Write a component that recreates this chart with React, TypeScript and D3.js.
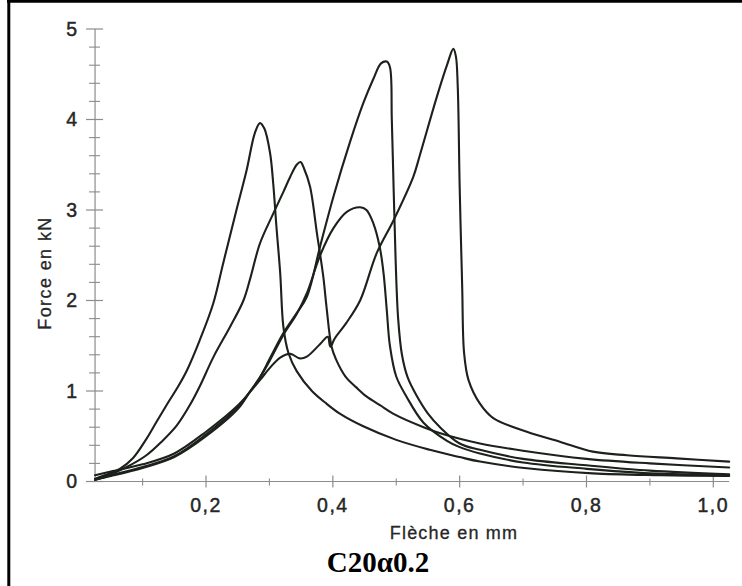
import React from "react";
import * as d3 from "d3";

const W = 742;
const H = 586;

// Deflection (mm) / Force (kN) for the five specimens
const aX = [0.025,0.04,0.064,0.085,0.105,0.122,0.14,0.156,0.17,0.19,0.2115,0.227,0.248,0.264,0.277,0.285,0.292,0.301,0.306,0.311,0.317,0.322,0.33,0.343,0.367,0.39,0.411,0.448,0.5,0.553,0.6,0.632,0.706,0.81,0.916,1.025];
const aY = [0.03,0.07,0.14,0.26,0.46,0.66,0.87,1.05,1.23,1.56,1.97,2.41,3.0,3.44,3.85,3.96,3.9,3.63,3.29,2.82,2.3,1.71,1.42,1.22,1.0,0.86,0.75,0.61,0.46,0.35,0.27,0.22,0.146,0.09,0.07,0.06];

const bX = [0.025,0.033,0.05,0.075,0.106,0.13,0.154,0.175,0.19,0.212,0.238,0.259,0.27,0.285,0.306,0.322,0.333,0.343,0.349,0.355,0.364,0.375,0.385,0.39,0.398,0.405,0.42,0.437,0.453,0.475,0.495,0.543,0.58,0.632,0.7,0.8,0.9,1.025];
const bY = [0.02,0.035,0.08,0.16,0.29,0.44,0.62,0.85,1.05,1.38,1.71,2.0,2.25,2.63,2.96,3.2,3.37,3.5,3.53,3.45,3.26,2.74,2.26,1.93,1.49,1.35,1.16,1.04,0.94,0.84,0.75,0.6,0.51,0.42,0.34,0.25,0.2,0.155];

const cX = [0.025,0.05,0.1,0.15,0.2,0.25,0.27,0.285,0.3,0.322,0.343,0.359,0.38,0.401,0.427,0.448,0.464,0.476,0.485,0.49,0.493,0.496,0.499,0.503,0.509,0.518,0.532,0.55,0.569,0.6,0.632,0.7,0.8,0.9,1.025];
const cY = [0.02,0.06,0.15,0.27,0.5,0.8,1.0,1.15,1.35,1.64,1.86,2.04,2.6,3.15,3.75,4.18,4.45,4.62,4.64,4.58,4.0,3.2,2.45,1.8,1.4,1.15,0.95,0.75,0.6,0.42,0.35,0.25,0.18,0.12,0.08];

const dX = [0.025,0.05,0.1,0.15,0.2,0.25,0.27,0.285,0.3,0.322,0.343,0.359,0.38,0.401,0.422,0.443,0.453,0.464,0.474,0.48,0.485,0.49,0.5,0.516,0.543,0.58,0.6,0.632,0.7,0.8,0.9,1.025];
const dY = [0.02,0.07,0.16,0.28,0.52,0.82,1.0,1.15,1.33,1.62,1.85,2.08,2.5,2.8,2.98,3.03,3.0,2.85,2.59,2.3,1.9,1.5,1.16,0.94,0.65,0.45,0.38,0.31,0.21,0.14,0.09,0.07];

const eX = [0.025,0.05,0.1,0.15,0.2,0.25,0.285,0.3,0.317,0.333,0.348,0.359,0.38,0.392,0.396,0.403,0.421,0.443,0.469,0.496,0.527,0.537,0.564,0.58,0.59,0.594,0.597,0.6,0.604,0.607,0.614,0.632,0.653,0.706,0.758,0.81,0.864,0.942,1.025];
const eY = [0.07,0.11,0.19,0.31,0.55,0.84,1.12,1.25,1.37,1.41,1.36,1.38,1.52,1.6,1.49,1.58,1.75,2.0,2.52,2.89,3.37,3.6,4.25,4.6,4.78,4.7,4.36,3.26,2.15,1.42,1.12,0.86,0.7,0.55,0.44,0.33,0.29,0.256,0.22];

const seriesX = [aX, bX, cX, dX, eX];
const seriesY = [aY, bY, cY, dY, eY];

const xMajorTicks = [0.2, 0.4, 0.6, 0.8, 1.0];
const xMajorLabels = ["0,2", "0,4", "0,6", "0,8", "1,0"];
const xMinorTicks = [0.1, 0.3, 0.5, 0.7, 0.9];
const yMajorTicks = [0, 1, 2, 3, 4, 5];
const yMajorLabels = ["0", "1", "2", "3", "4", "5"];

const xTitle = "Flèche en mm";
const yTitle = "Force en kN";
const chartTitle = "C20α0.2";

export default function App() {
  const x = d3.scaleLinear().domain([0, 1]).range([79.2, 713.3]);
  const y = d3.scaleLinear().domain([0, 5]).range([481.5, 29]);
  const x0 = 0.025;
  const x1 = 1.025;

  const line = d3
    .line<[number, number]>()
    .x((p) => x(p[0]))
    .y((p) => y(p[1]))
    .curve(d3.curveCatmullRom.alpha(0.5));

  const yMinor: number[] = [];
  for (let i = 0; i <= 25; i++) {
    if (i % 5 !== 0) yMinor.push(i * 0.2);
  }

  const axisColor = "#8c8c8c";
  const textColor = "#262626";
  const sans = "Arial, 'Liberation Sans', Helvetica, sans-serif";

  return (
    <svg
      width={W}
      height={H}
      style={{ position: "absolute", left: 0, top: 0, background: "#fff" }}
    >
      <rect x={0} y={0} width={W} height={H} fill="#fff" />
      {/* frame */}
      <line x1={8.8} y1={0} x2={8.8} y2={H} stroke="#000" strokeWidth={3} />
      <line x1={7} y1={1.3} x2={W} y2={1.3} stroke="#000" strokeWidth={3} />

      {/* y axis */}
      <line x1={x(x0)} x2={x(x0)} y1={y(5)} y2={y(0)} stroke={axisColor} strokeWidth={1.2} />
      {yMinor.map((v) => (
        <line key={"ym" + v} x1={x(x0) - 6} x2={x(x0) + 5} y1={y(v)} y2={y(v)} stroke={axisColor} strokeWidth={1.1} />
      ))}
      {yMajorTicks.map((v, i) => (
        <g key={"y" + v}>
          <line x1={x(x0) - 9} x2={x(x0) + 8} y1={y(v)} y2={y(v)} stroke={axisColor} strokeWidth={1.2} />
          <text
            x={77}
            y={y(v) + 1.5}
            textAnchor="end"
            dominantBaseline="middle"
            fontFamily={sans}
            fontSize={19.5}
            fill={textColor}
            stroke={textColor}
            strokeWidth={0.45}
          >
            {yMajorLabels[i]}
          </text>
        </g>
      ))}

      {/* x axis */}
      <line x1={x(x0)} x2={x(x1)} y1={y(0)} y2={y(0)} stroke={axisColor} strokeWidth={1.2} />
      {xMinorTicks.map((v) => (
        <line key={"xm" + v} x1={x(v)} x2={x(v)} y1={y(0) - 3} y2={y(0) + 4} stroke={axisColor} strokeWidth={1.1} />
      ))}
      {xMajorTicks.map((v, i) => (
        <g key={"x" + v}>
          <line x1={x(v)} x2={x(v)} y1={y(0) - 6} y2={y(0) + 6} stroke={axisColor} strokeWidth={1.2} />
          <text
            x={x(v)}
            y={512}
            textAnchor="middle"
            fontFamily={sans}
            fontSize={19.5}
            letterSpacing={1.5}
            fill={textColor}
            stroke={textColor}
            strokeWidth={0.45}
          >
            {xMajorLabels[i]}
          </text>
        </g>
      ))}

      {/* curves */}
      {seriesX.map((xs, si) => {
        const pts: [number, number][] = xs.map((xv, j) => [xv, seriesY[si][j]]);
        return (
          <path
            key={"s" + si}
            d={line(pts) || ""}
            fill="none"
            stroke="#1c211c"
            strokeWidth={2.1}
            strokeLinejoin="round"
            strokeLinecap="round"
          />
        );
      })}

      {/* axis titles */}
      <text
        x={454}
        y={539}
        textAnchor="middle"
        fontFamily={sans}
        fontSize={18}
        letterSpacing={1.2}
        fill={textColor}
        stroke={textColor}
        strokeWidth={0.3}
      >
        {xTitle}
      </text>
      <text
        transform="translate(51,273) rotate(-90)"
        textAnchor="middle"
        fontFamily={sans}
        fontSize={18}
        letterSpacing={1.4}
        fill={textColor}
        stroke={textColor}
        strokeWidth={0.3}
      >
        {yTitle}
      </text>
      <text
        x={378}
        y={572}
        textAnchor="middle"
        fontFamily="'Liberation Serif', 'Times New Roman', serif"
        fontWeight="bold"
        fontSize={29}
        fill="#000"
      >
        {chartTitle}
      </text>
    </svg>
  );
}
